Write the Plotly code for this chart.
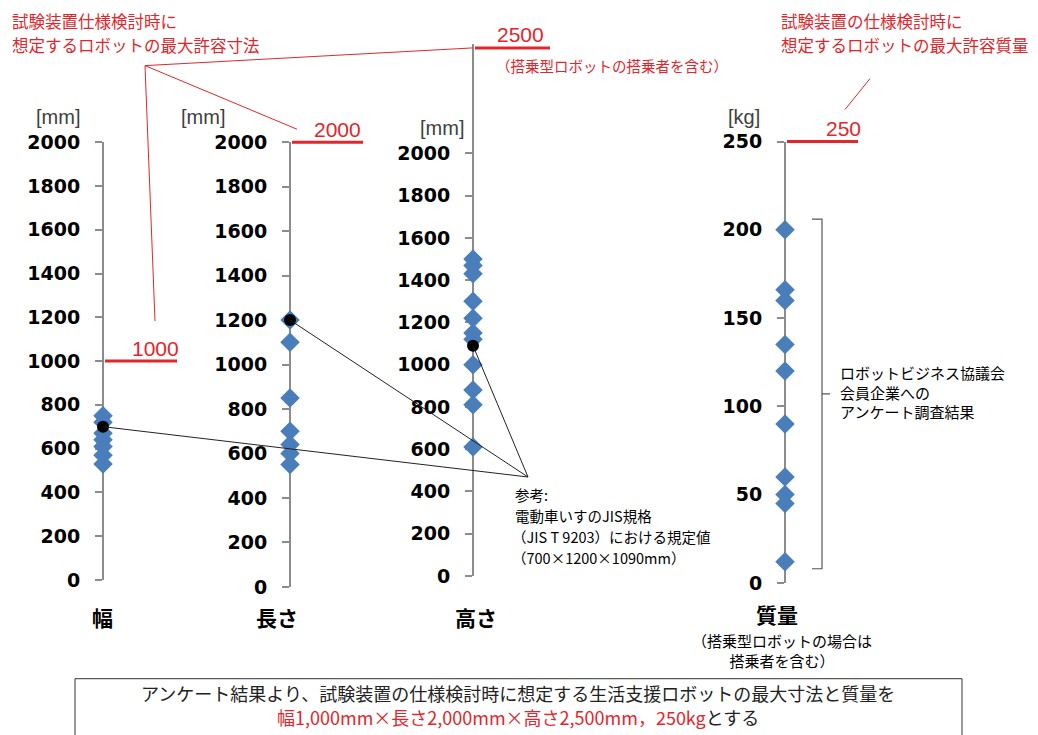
import plotly.graph_objects as go

W, H = 1038, 735

# ---- data ----
categories = ["幅", "長さ", "高さ", "質量"]
units = ["[mm]", "[mm]", "[mm]", "[kg]"]
width_mm = [750, 720, 670, 640, 610, 570, 530]
length_mm = [1200, 1100, 850, 700, 640, 600, 550]
height_mm = [1500, 1470, 1430, 1300, 1220, 1150, 1120, 1000, 880, 810, 610]
mass_kg = [200, 166, 160, 135, 120, 90, 60, 50, 45, 12]
jis_wheelchair = [700, 1200, 1090]          # 幅, 長さ, 高さ of JIS T 9203
max_allowed = [1000, 2000, 2500, 250]        # 幅, 長さ, 高さ, 質量
max_labels = ["1000", "2000", "2500", "250"]
mm_ticks = list(range(0, 2001, 200))
kg_ticks = list(range(0, 251, 50))
survey_span_kg = [8, 206]

# ---- axis geometry (pixels) ----
AXES = [
    dict(x=103, zero=580, ppu=438.3 / 2000, top=2000, ticks=mm_ticks),
    dict(x=290, zero=587, ppu=445.3 / 2000, top=2000, ticks=mm_ticks),
    dict(x=473, zero=576, ppu=423.0 / 2000, top=2520, ticks=mm_ticks),
    dict(x=785, zero=583, ppu=442.0 / 250, top=250, ticks=kg_ticks),
]

# vertical placement calibration of the canvas
Y_OFF, Y_SCALE = 10.3, 0.9715

RED = "#e3262b"
BLUE = "#4a7ebb"
GREY = "#8c8c8c"
JP = "Noto Sans CJK JP"


def fx(x):
    return x / W


def fy(y):
    return 1 - ((y - Y_OFF) / Y_SCALE) / H


def vpx(i, v):
    """pixel row of value v on axis i"""
    a = AXES[i]
    return a["zero"] - v * a["ppu"]


fig = go.Figure()
series = [width_mm, length_mm, height_mm, mass_kg]
for i, vals in enumerate(series):
    sfx = "" if i == 0 else str(i + 1)
    fig.add_trace(go.Scatter(
        x=[0] * len(vals), y=vals, mode="markers", cliponaxis=False,
        marker=dict(symbol="diamond", size=15, color=BLUE, line=dict(width=0)),
        xaxis="x" + sfx, yaxis="y" + sfx, showlegend=False, hoverinfo="y"))
for i, v in enumerate(jis_wheelchair):
    sfx = "" if i == 0 else str(i + 1)
    fig.add_trace(go.Scatter(
        x=[0], y=[v], mode="markers", cliponaxis=False,
        marker=dict(symbol="circle", size=12, color="black"),
        xaxis="x" + sfx, yaxis="y" + sfx, showlegend=False, hoverinfo="y"))

layout = dict(
    width=W, height=H, margin=dict(l=0, r=0, t=0, b=0),
    paper_bgcolor="white", plot_bgcolor="rgba(0,0,0,0)",
    showlegend=False,
)
for i, a in enumerate(AXES):
    sfx = "" if i == 0 else str(i + 1)
    layout["xaxis" + sfx] = dict(
        domain=[fx(a["x"] - 12), fx(a["x"] + 12)], range=[-12, 12],
        visible=False, fixedrange=True,
        anchor="y" + sfx)
    layout["yaxis" + sfx] = dict(
        domain=[fy(a["zero"]), fy(a["zero"] - a["top"] * a["ppu"])],
        range=[0, a["top"]], anchor="free", position=fx(a["x"]),
        showline=True, linecolor=GREY, linewidth=2, layer="below traces",
        ticks="outside", ticklen=7, tickwidth=1.5, tickcolor=GREY,
        tickvals=a["ticks"], ticklabelstandoff=11,
        tickfont=dict(family="DejaVu Sans", size=19, color="black", weight="bold"),
        showgrid=False, zeroline=False, fixedrange=True)
fig.update_layout(**layout)

shapes = []
ann = []


def line(x0, y0, x1, y1, color, width):
    shapes.append(dict(type="line", xref="paper", yref="paper",
                       x0=fx(x0), y0=fy(y0), x1=fx(x1), y1=fy(y1),
                       line=dict(color=color, width=width)))


def text(x, y, s, size, color="black", xanchor="center", family=JP, weight="normal", align="center"):
    ann.append(dict(xref="paper", yref="paper", x=fx(x), y=fy(y), text=s,
                    showarrow=False, xanchor=xanchor, yanchor="middle", align=align,
                    font=dict(family=family, size=size, color=color, weight=weight)))


# maximum allowable values: red bars next to each axis with their numbers
bar_len = [74, 73, 77, 73]
label_cx = [155, 337, 520, 843]
for i, (v, lab) in enumerate(zip(max_allowed, max_labels)):
    a = AXES[i]
    y = vpx(i, v)
    line(a["x"] + 2, y, a["x"] + bar_len[i], y, RED, 3)
    text(label_cx[i], y - 13, lab, 21, RED, family="Liberation Sans")
text(612, vpx(2, max_allowed[2]) + 18, "（搭乗型ロボットの搭乗者を含む）", 14.5, RED)

# red leader lines from the dimension caption
vx, vy = 145, 65
line(vx, vy, 155, vpx(0, max_allowed[0]) - 40, RED, 1)
line(vx, vy, 297, vpx(1, max_allowed[1]) - 13, RED, 1)
line(vx, vy, AXES[2]["x"], vpx(2, max_allowed[2]), RED, 1)
text(10, 20, "試験装置仕様検討時に", 16.5, RED, xanchor="left")
text(10, 44, "想定するロボットの最大許容寸法", 16.5, RED, xanchor="left")

# red leader line from the mass caption
line(845, vpx(3, max_allowed[3]) - 32, 870, 78, RED, 1)
text(779, 20, "試験装置の仕様検討時に", 16.5, RED, xanchor="left")
text(779, 44, "想定するロボットの最大許容質量", 16.5, RED, xanchor="left")

# unit labels
unit_pos = [(58, 116), (203, 116), (442, 127), (744, 116)]
for u, (x, y) in zip(units, unit_pos):
    text(x, y, u, 20, "#404040", family="Liberation Sans")

# category labels
cat_pos = [(102, 617), (277, 617), (476, 617), (777, 614)]
for c, (x, y) in zip(categories, cat_pos):
    text(x, y, c, 21, "black", weight="bold")
text(782, 651, "（搭乗型ロボットの場合は<br>搭乗者を含む）", 15)

# JIS reference: leader lines from the note to each reference dot
px, py = 528, 477
for i, v in enumerate(jis_wheelchair):
    line(px, py, AXES[i]["x"], vpx(i, v), "#222222", 1)
text(513, 495, "参考:", 14.5, xanchor="left")
text(513, 516, "電動車いすのJIS規格", 14.5, xanchor="left")
text(510, 537, "（JIS T 9203）における規定値", 14.5, xanchor="left")
text(510, 558, "（700×1200×1090mm）", 14.5, xanchor="left")

# bracket around the survey results on the mass axis
bt, bb = vpx(3, survey_span_kg[1]), vpx(3, survey_span_kg[0])
bm = (bt + bb) / 2
bx = 822
shapes.append(dict(type="path", xref="paper", yref="paper",
                   path=(f"M {fx(bx-10)},{fy(bt)} L {fx(bx)},{fy(bt)} L {fx(bx)},{fy(bb)} "
                         f"L {fx(bx-10)},{fy(bb)} M {fx(bx)},{fy(bm)} L {fx(bx+8)},{fy(bm)}"),
                   line=dict(color="#555555", width=1.2)))
text(838, 392, "ロボットビジネス協議会<br>会員企業への<br>アンケート調査結果", 15,
     xanchor="left", align="left")

# conclusion box (its lower edge runs past the bottom of the canvas)
shapes.append(dict(type="rect", xref="paper", yref="paper",
                   x0=fx(75), x1=fx(962), y0=fy(679), y1=fy(770),
                   line=dict(color="#333333", width=1), fillcolor="white", layer="below"))
text(518, 693, "アンケート結果より、試験装置の仕様検討時に想定する生活支援ロボットの最大寸法と質量を", 18, "#222222")
text(518, 717, f'<span style="color:{RED}">幅1,000mm×長さ2,000mm×高さ2,500mm，250kg</span>とする', 18, "#222222")

fig.update_layout(shapes=shapes, annotations=ann)
fig.write_html("out.html")
